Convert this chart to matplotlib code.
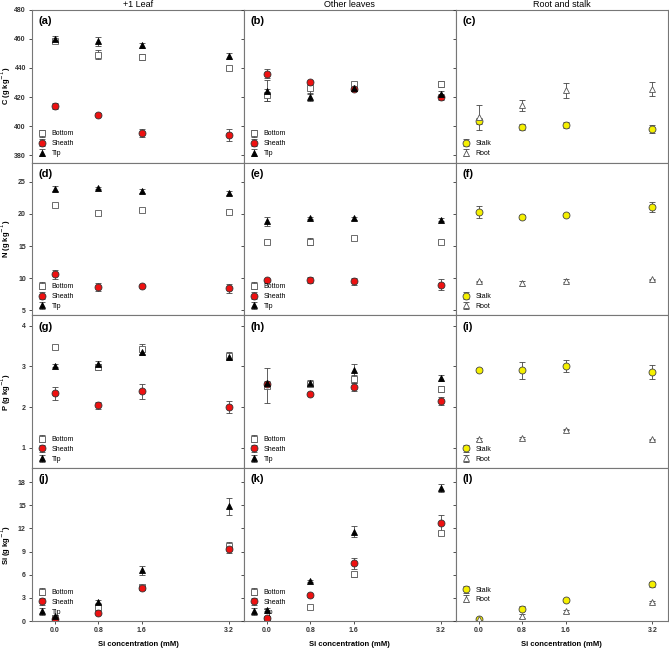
import matplotlib
matplotlib.use('Agg')
import matplotlib.pyplot as plt

plt.rcParams['font.family'] = ['Liberation Sans', 'DejaVu Sans']

si_conc = [0.0, 0.8, 1.6, 3.2]
col_titles = ['+1 Leaf', 'Other leaves', 'Root and stalk']
row_labels = ['C (g kg$^{-1}$)', 'N (g kg$^{-1}$)', 'P (g kg$^{-1}$)', 'Si (g kg$^{-1}$)']
panel_tags = ['(a)', '(b)', '(c)', '(d)', '(e)', '(f)', '(g)', '(h)', '(i)', '(j)', '(k)', '(l)']

# +1 leaf (mean, se)
leaf1_C_bottom = [458.5, 449.0, 447.8, 440.0]
leaf1_C_bottom_se = [1.5, 3.0, 2.0, 1.5]
leaf1_C_sheath = [413.6, 407.9, 395.3, 394.1]
leaf1_C_sheath_se = [2.0, 1.0, 3.0, 4.0]
leaf1_C_tip = [460.0, 458.2, 455.5, 448.0]
leaf1_C_tip_se = [2.0, 3.0, 1.5, 2.0]

leaf1_N_bottom = [21.4, 20.1, 20.6, 20.3]
leaf1_N_bottom_se = [0.2, 0.2, 0.2, 0.2]
leaf1_N_sheath = [10.6, 8.6, 8.8, 8.4]
leaf1_N_sheath_se = [0.7, 0.6, 0.2, 0.7]
leaf1_N_tip = [23.9, 24.05, 23.6, 23.2]
leaf1_N_tip_se = [0.4, 0.2, 0.3, 0.3]

leaf1_P_bottom = [3.47, 2.98, 3.43, 3.26]
leaf1_P_bottom_se = [0.05, 0.07, 0.12, 0.1]
leaf1_P_sheath = [2.34, 2.04, 2.39, 2.0]
leaf1_P_sheath_se = [0.16, 0.08, 0.18, 0.15]
leaf1_P_tip = [3.02, 3.06, 3.36, 3.22]
leaf1_P_tip_se = [0.03, 0.07, 0.08, 0.05]

leaf1_Si_bottom = [0.4, 1.8, 4.4, 9.75]
leaf1_Si_bottom_se = [0.1, 0.4, 0.2, 0.5]
leaf1_Si_sheath = [0.26, 1.1, 4.35, 9.3]
leaf1_Si_sheath_se = [0.1, 0.2, 0.2, 0.5]
leaf1_Si_tip = [0.6, 2.5, 6.6, 14.9]
leaf1_Si_tip_se = [0.15, 0.2, 0.6, 1.1]

# other leaves
other_C_bottom = [421.6, 426.2, 429.2, 429.2]
other_C_bottom_se = [4.0, 4.0, 1.0, 2.0]
other_C_sheath = [436.1, 430.1, 425.5, 419.8]
other_C_sheath_se = [3.0, 1.0, 1.0, 2.0]
other_C_tip = [424.4, 420.0, 426.2, 422.0]
other_C_tip_se = [7.0, 3.0, 1.0, 2.0]

other_N_bottom = [15.7, 15.7, 16.2, 15.7]
other_N_bottom_se = [0.3, 0.6, 0.2, 0.3]
other_N_sheath = [9.7, 9.7, 9.5, 9.0]
other_N_sheath_se = [0.2, 0.5, 0.5, 0.8]
other_N_tip = [18.9, 19.4, 19.3, 19.1]
other_N_tip_se = [0.7, 0.2, 0.3, 0.2]

other_P_bottom = [2.53, 2.57, 2.7, 2.44]
other_P_bottom_se = [0.42, 0.05, 0.1, 0.07]
other_P_sheath = [2.56, 2.32, 2.5, 2.15]
other_P_sheath_se = [0.05, 0.03, 0.1, 0.1]
other_P_tip = [2.6, 2.6, 2.9, 2.71]
other_P_tip_se = [0.05, 0.07, 0.15, 0.07]

other_Si_bottom = [0.25, 1.8, 6.05, 11.4]
other_Si_bottom_se = [0.1, 0.2, 0.3, 0.3]
other_Si_sheath = [0.35, 3.35, 7.5, 12.7]
other_Si_sheath_se = [0.1, 0.2, 0.7, 1.0]
other_Si_tip = [1.5, 5.2, 11.6, 17.2]
other_Si_tip_se = [0.15, 0.1, 0.7, 0.5]

# stalk and root
stalk_C = [403.7, 399.5, 400.7, 398.0]
stalk_C_se = [2.0, 2.0, 2.0, 3.0]
root_C = [406.0, 414.3, 424.6, 425.5]
root_C_se = [8.6, 4.0, 5.0, 5.0]

stalk_N = [20.3, 19.5, 19.9, 21.1]
stalk_N_se = [1.0, 0.3, 0.2, 0.8]
root_N = [9.5, 9.2, 9.6, 9.8]
root_N_se = [0.1, 0.4, 0.2, 0.1]

stalk_P = [2.92, 2.9, 3.01, 2.86]
stalk_P_se = [0.05, 0.2, 0.15, 0.18]
root_P = [1.21, 1.25, 1.45, 1.21]
root_P_se = [0.03, 0.02, 0.02, 0.02]

stalk_Si = [0.3, 1.6, 2.75, 4.76]
stalk_Si_se = [0.1, 0.3, 0.15, 0.3]
root_Si = [0.3, 0.65, 1.25, 2.45]
root_Si_se = [0.1, 0.3, 0.2, 0.15]

ylims = [(375, 480), (4.2, 28), (0.5, 4.25), (0, 19.8)]
yticks = [[380, 400, 420, 440, 460, 480], [5, 10, 15, 20, 25], [1, 2, 3, 4], [0, 3, 6, 9, 12, 15, 18]]

styles = {
    'Bottom': dict(marker='s', mfc='white', mec='#555555', ms=4.5),
    'Sheath': dict(marker='o', mfc='#ee1111', mec='#333333', ms=5),
    'Tip': dict(marker='^', mfc='black', mec='black', ms=4.5),
    'Stalk': dict(marker='o', mfc='#f5f000', mec='#444444', ms=5),
    'Root': dict(marker='^', mfc='white', mec='#555555', ms=4.5),
}

leaf_rows = [
    [('Bottom', leaf1_C_bottom, leaf1_C_bottom_se), ('Sheath', leaf1_C_sheath, leaf1_C_sheath_se), ('Tip', leaf1_C_tip, leaf1_C_tip_se)],
    [('Bottom', leaf1_N_bottom, leaf1_N_bottom_se), ('Sheath', leaf1_N_sheath, leaf1_N_sheath_se), ('Tip', leaf1_N_tip, leaf1_N_tip_se)],
    [('Bottom', leaf1_P_bottom, leaf1_P_bottom_se), ('Sheath', leaf1_P_sheath, leaf1_P_sheath_se), ('Tip', leaf1_P_tip, leaf1_P_tip_se)],
    [('Bottom', leaf1_Si_bottom, leaf1_Si_bottom_se), ('Sheath', leaf1_Si_sheath, leaf1_Si_sheath_se), ('Tip', leaf1_Si_tip, leaf1_Si_tip_se)],
]
other_rows = [
    [('Bottom', other_C_bottom, other_C_bottom_se), ('Sheath', other_C_sheath, other_C_sheath_se), ('Tip', other_C_tip, other_C_tip_se)],
    [('Bottom', other_N_bottom, other_N_bottom_se), ('Sheath', other_N_sheath, other_N_sheath_se), ('Tip', other_N_tip, other_N_tip_se)],
    [('Bottom', other_P_bottom, other_P_bottom_se), ('Sheath', other_P_sheath, other_P_sheath_se), ('Tip', other_P_tip, other_P_tip_se)],
    [('Bottom', other_Si_bottom, other_Si_bottom_se), ('Sheath', other_Si_sheath, other_Si_sheath_se), ('Tip', other_Si_tip, other_Si_tip_se)],
]
root_rows = [
    [('Stalk', stalk_C, stalk_C_se), ('Root', root_C, root_C_se)],
    [('Stalk', stalk_N, stalk_N_se), ('Root', root_N, root_N_se)],
    [('Stalk', stalk_P, stalk_P_se), ('Root', root_P, root_P_se)],
    [('Stalk', stalk_Si, stalk_Si_se), ('Root', root_Si, root_Si_se)],
]

fig, axes = plt.subplots(4, 3, figsize=(6.69, 6.49), dpi=100, sharex=True)
fig.subplots_adjust(left=0.048, right=0.998, top=0.985, bottom=0.043, hspace=0, wspace=0)

for r in range(4):
    for c, rows in enumerate([leaf_rows, other_rows, root_rows]):
        ax = axes[r, c]
        for name, vals, errs in rows[r]:
            ax.errorbar(si_conc, vals, yerr=errs, linestyle='none', ecolor='#444444',
                        elinewidth=0.6, capsize=2, capthick=0.6, mew=0.6, label=name,
                        **styles[name])
        ax.set_xlim(-0.42, 3.48)
        ax.set_ylim(*ylims[r])
        ax.set_yticks(yticks[r])
        ax.set_xticks(si_conc)
        ax.tick_params(direction='out', length=2.5, width=0.6, colors='#333333',
                       labelsize=5, pad=2)
        for lab in ax.get_xticklabels() + ax.get_yticklabels():
            lab.set_fontweight('bold')
        if c > 0:
            ax.tick_params(labelleft=False)
        for sp in ax.spines.values():
            sp.set_color('#777777')
            sp.set_linewidth(0.8)
        ax.text(0.03, 0.96, panel_tags[r * 3 + c], transform=ax.transAxes,
                va='top', ha='left', fontsize=8, fontweight='bold')
        leg_anchor = (0.0, 0.0)
        if r == 3 and c == 2:
            leg_anchor = (0.0, 0.08)
        ax.legend(loc='lower left', bbox_to_anchor=leg_anchor, frameon=False, fontsize=5,
                  handletextpad=0.8, labelspacing=0.4, borderaxespad=0.4,
                  handlelength=1.2)
        if c == 0:
            ax.set_ylabel(row_labels[r], fontsize=5.5, fontweight='bold')
            ax.yaxis.set_label_coords(-0.09, 0.5)
        if r == 0:
            ax.set_title(col_titles[c], fontsize=6.5, pad=2)
        if r == 3:
            ax.set_xticklabels(['0.0', '0.8', '1.6', '3.2'])
            ax.set_xlabel('Si concentration (mM)', fontsize=5.5, fontweight='bold', labelpad=5)

fig.savefig('out.png', dpi=100)
